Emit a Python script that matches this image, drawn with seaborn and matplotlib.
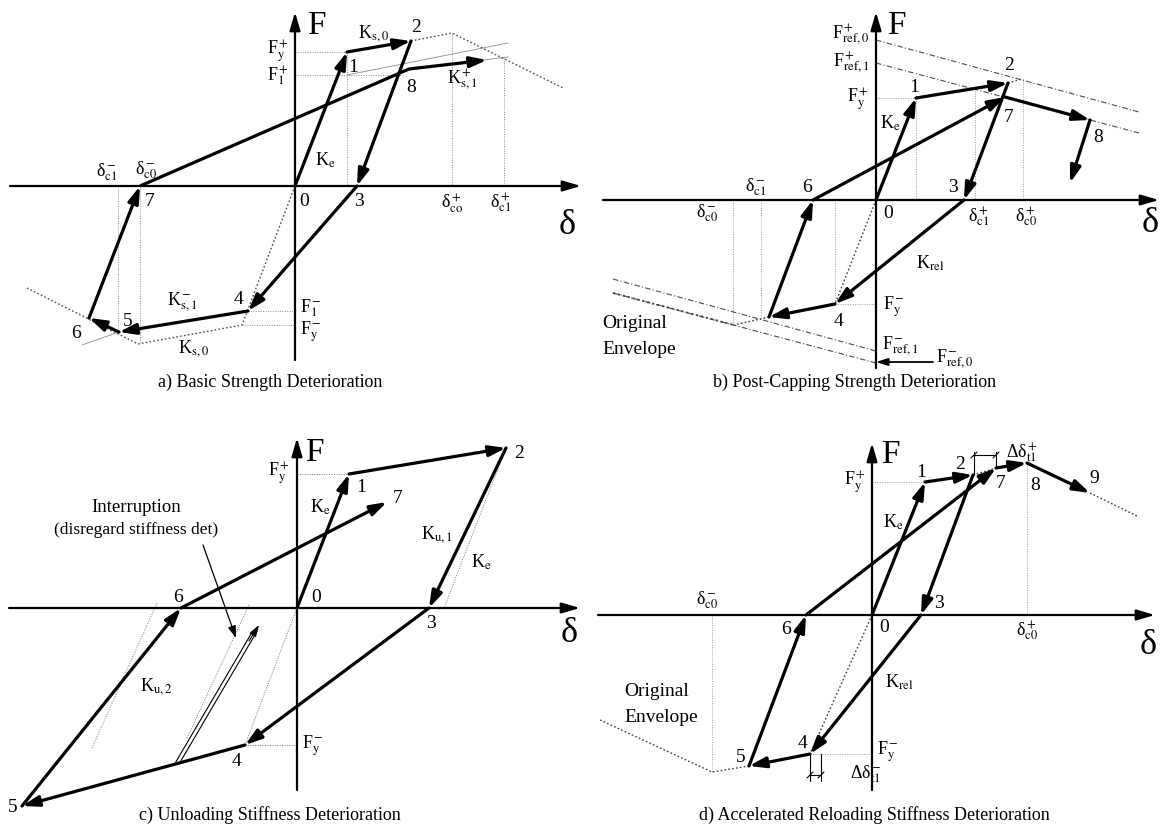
import matplotlib
matplotlib.use("Agg")
import matplotlib.pyplot as plt
import seaborn as sns

sns.set_theme(style="white")
plt.rcParams['font.family'] = ['Liberation Serif', 'DejaVu Serif']
plt.rcParams['mathtext.fontset'] = 'stix'

# ------------------------------------------------------------------ data
# Each panel: hysteresis path (delta, F) in schematic units, origin at axis crossing.
# ---- panel a : basic strength deterioration
A_PATH_D = [0, 52, 116, 62, -47, -176, -206, -155, 114, 192]
A_PATH_F = [0, 134, 145, 0, -125, -146, -132, 0, 117, 126]
A_HEADS = [1, 1, 1, 1, 1, 1, 1, 0, 1]
A_ENV_POS_D = [116, 157, 268]
A_ENV_POS_F = [145, 153, 98]
A_ENV_NEG_D = [0, -53, -157, -268]
A_ENV_NEG_F = [0, -139, -158, -102]
A_RED_D = [[52, 213], [114, 213], [-176, -213]]
A_RED_F = [[111, 143], [117, 129], [-146, -159]]
A_GUIDE_D = [[52, 52], [157, 157], [209, 209], [-177, -177], [-155, -155],
             [0, 52], [0, 108], [-53, 0], [-47, 0]]
A_GUIDE_F = [[134, 0], [153, 0], [128, 0], [0, -148], [0, -158],
             [134, 134], [111, 111], [-139, -139], [-125, -125]]
A_CAPTION = "a) Basic Strength Deterioration"

# ---- panel b : post-capping strength deterioration
B_PATH_D = [0, 40, 132, 88, -41, -107, -63, 129, 214, 194]
B_PATH_F = [0, 102, 117, 0, -104, -117, 0, 103, 80, 17]
B_REF_D = [[0, 263], [0, 263], [-263, 0], [-263, 0]]
B_REF_F = [[160, 88], [137, 67], [-79, -151], [-93, -163]]
B_ENV_D = [[132, 146], [-107, -142], [0, -41], [-263, -142]]
B_ENV_F = [[117, 121], [-117, -125], [0, -104], [-93, -125]]
B_GUIDE_D = [[40, 40], [99, 99], [147, 147], [-115, -115], [-143, -143], [-41, -41],
             [0, 40], [-41, 0]]
B_GUIDE_F = [[102, 0], [112, 0], [121, 0], [0, -117], [0, -125], [0, -104],
             [102, 102], [-104, -104]]
B_CAPTION = "b) Post-Capping Strength Deterioration"

# ---- panel c : unloading stiffness deterioration
C_PATH_D = [0, 52, 209, 132, -52, -275, -116, 90]
C_PATH_F = [0, 134, 160, 0, -137, -198, 0, 106]
C_INTERRUPT_D = [-119, -38]
C_INTERRUPT_F = [-154, -17]
C_GUIDE_D = [[0, 52], [-52, 0], [209, 147], [0, -52], [-140, -205], [-48, -110]]
C_GUIDE_F = [[134, 134], [-137, -137], [160, 0], [0, -137], [5, -140], [3, -130]]
C_CAPTION = "c) Unloading Stiffness Deterioration"

# ---- panel d : accelerated reloading stiffness deterioration
D_PATH_D = [0, 53, 101, 49, -62, -123, -66, 124, 155, 218]
D_PATH_F = [0, 133, 140, 0, -139, -151, 0, 147, 152, 122]
D_ENV_D = [[101, 124], [218, 267], [0, -62], [-272, -160, -123]]
D_ENV_F = [[140, 147], [122, 98], [0, -139], [-105, -157, -151]]
D_GUIDE_D = [[155, 155], [0, 53], [-62, 0], [-160, -160]]
D_GUIDE_F = [[152, 0], [133, 133], [-139, -139], [0, -157]]
D_DIM_POS_D = [102, 124]
D_DIM_NEG_D = [-62, -51]
D_CAPTION = "d) Accelerated Reloading Stiffness Deterioration"

# ------------------------------------------------------------------ layout
W, H = 1162, 836
fig = plt.figure(figsize=(W / 100, H / 100), dpi=100)
fig.patch.set_facecolor("white")


def make_ax(x0, y0, x1, y1, ox, oy):
    ax = fig.add_axes([x0 / W, 1 - y1 / H, (x1 - x0) / W, (y1 - y0) / H])
    ax.set_xlim(x0 - ox, x1 - ox)
    ax.set_ylim(oy - y1, oy - y0)
    ax.set_axis_off()
    return ax


HEAD = "-|>,head_length=0.5,head_width=0.16"


def arrow(ax, p, q, lw=2.3, ms=20, style=HEAD, color="black"):
    ax.annotate("", xy=q, xytext=p,
                arrowprops=dict(arrowstyle=style, lw=lw, color=color,
                                shrinkA=0, shrinkB=0, mutation_scale=ms))


def line(ax, xs, ys, color="0.35", lw=0.9, ls=(0, (1.2, 1.6))):
    sns.lineplot(x=list(xs), y=list(ys), sort=False, estimator=None, ax=ax,
                 color=color, lw=lw, linestyle=ls, legend=False)


def path(ax, ds, fs, heads=None):
    for i in range(len(ds) - 1):
        h = True if heads is None else heads[i]
        if h:
            arrow(ax, (ds[i], fs[i]), (ds[i + 1], fs[i + 1]))
        else:
            ax.plot([ds[i], ds[i + 1]], [fs[i], fs[i + 1]], color="black",
                    lw=2.3, solid_capstyle="butt")


def axes_arrows(ax, xl, xr, yb, yt):
    arrow(ax, (xl, 0), (xr, 0), lw=1.6, ms=20,
          style="-|>,head_length=0.55,head_width=0.16")
    arrow(ax, (0, yb), (0, yt), lw=1.6, ms=20,
          style="-|>,head_length=0.55,head_width=0.16")


def lab(ax, d, f, s, size=13, ha="center", va="center"):
    ax.text(d, f, s, fontsize=size, ha=ha, va=va, color="black")


def sub(base, lo, hi=""):
    if hi:
        return base + r"$_{\mathrm{" + lo + r"}}^{\,\mathrm{" + hi + r"}}$"
    return base + r"$_{\mathrm{" + lo + r"}}$"


# ================================================================ panel a
ax = make_ax(0, 0, 581, 400, 295, 186)
for xs, ys in zip(A_GUIDE_D, A_GUIDE_F):
    line(ax, xs, ys, color="0.55", lw=0.7, ls=(0, (1, 1.5)))
for xs, ys in zip(A_RED_D, A_RED_F):
    line(ax, xs, ys, color="0.6", lw=0.7, ls="-")
line(ax, A_ENV_POS_D, A_ENV_POS_F, color="0.3", lw=1.0)
line(ax, A_ENV_NEG_D, A_ENV_NEG_F, color="0.3", lw=1.0)
axes_arrows(ax, -285, 286, -174, 174)
path(ax, A_PATH_D, A_PATH_F, A_HEADS)
lab(ax, 21, 160, "F", size=24)
lab(ax, 272, -40, "δ", size=26)
lab(ax, -6, 134, sub("F", "y", "+"), ha="right")
lab(ax, -6, 110, sub("F", "1", "+"), ha="right")
lab(ax, 79, 152, sub("K", "s,0"))
lab(ax, 121, 158, "2", size=14)
lab(ax, 58, 119, "1", size=14)
lab(ax, 116, 99, "8", size=14)
lab(ax, 167, 106, sub("K", "s,1", "+"))
lab(ax, 30, 26, sub("K", "e"))
lab(ax, 9, -16, "0", size=14)
lab(ax, 64, -16, "3", size=14)
lab(ax, -145, -16, "7", size=14)
lab(ax, -188, 14, sub("δ", "c1", "-"))
lab(ax, -149, 16, sub("δ", "c0", "-"))
lab(ax, 157, -18, sub("δ", "co", "+"))
lab(ax, 206, -17, sub("δ", "c1", "+"))
lab(ax, 5, -122, sub("F", "1", "-"), ha="left")
lab(ax, 5, -146, sub("F", "y", "-"), ha="left")
lab(ax, -113, -116, sub("K", "s,1", "-"))
lab(ax, -57, -113, "4", size=14)
lab(ax, -167, -136, "5", size=14)
lab(ax, -219, -147, "6", size=14)
lab(ax, -101, -163, sub("K", "s,0"))
lab(ax, -25, -196, A_CAPTION, size=13)

# ================================================================ panel b
ax = make_ax(581, 0, 1162, 400, 876, 200)
for xs, ys in zip(B_GUIDE_D, B_GUIDE_F):
    line(ax, xs, ys, color="0.6", lw=0.7, ls=(0, (1, 1.5)))
for xs, ys in zip(B_REF_D, B_REF_F):
    line(ax, xs, ys, color="0.3", lw=0.8, ls=(0, (5, 2, 1, 2)))
for i, (xs, ys) in enumerate(zip(B_ENV_D, B_ENV_F)):
    line(ax, xs, ys, color="0.25", lw=1.3 if i == 3 else 1.0)
axes_arrows(ax, -273, 283, -168, 188)
path(ax, B_PATH_D, B_PATH_F)
arrow(ax, (57, -162), (0, -162), lw=1.3, ms=14)
lab(ax, 20, 174, "F", size=24)
lab(ax, 274, -24, "δ", size=26)
lab(ax, -7, 165, sub("F", "ref,0", "+"), ha="right")
lab(ax, -7, 137, sub("F", "ref,1", "+"), ha="right")
lab(ax, -7, 100, sub("F", "y", "+"), ha="right")
lab(ax, 133, 135, "2", size=14)
lab(ax, 38, 113, "1", size=14)
lab(ax, 14, 77, sub("K", "e"))
lab(ax, 133, 83, "7", size=14)
lab(ax, 222, 63, "8", size=14)
lab(ax, 77, 12, "3", size=14)
lab(ax, 12, -14, "0", size=14)
lab(ax, 103, -17, sub("δ", "c1", "+"))
lab(ax, 150, -17, sub("δ", "c0", "+"))
lab(ax, -169, -13, sub("δ", "c0", "-"))
lab(ax, -120, 13, sub("δ", "c1", "-"))
lab(ax, -69, 12, "6", size=14)
lab(ax, 54, -63, sub("K", "rel"))
lab(ax, 7, -106, sub("F", "y", "-"), ha="left")
lab(ax, -37, -122, "4", size=14)
lab(ax, -274, -124, "Original", ha="left", size=14)
lab(ax, -274, -149, "Envelope", ha="left", size=14)
lab(ax, 6, -146, sub("F", "ref,1", "-"), ha="left")
lab(ax, 60, -159, sub("F", "ref,0", "-"), ha="left")
lab(ax, -21, -182, B_CAPTION, size=13)

# ================================================================ panel c
ax = make_ax(0, 400, 581, 836, 297, 608)
for xs, ys in zip(C_GUIDE_D, C_GUIDE_F):
    line(ax, xs, ys, color="0.45", lw=0.7, ls=(0, (1, 1.5)))
axes_arrows(ax, -288, 283, -182, 170)
path(ax, C_PATH_D, C_PATH_F)
# interruption: double thin arrow
for off in (-2.2, 2.2):
    ax.plot([C_INTERRUPT_D[0] + off, C_INTERRUPT_D[1] + off - 4],
            [C_INTERRUPT_F[0], C_INTERRUPT_F[1] - 6], color="black", lw=0.8)
arrow(ax, (C_INTERRUPT_D[1] - 10, C_INTERRUPT_F[1] - 16),
      (C_INTERRUPT_D[1], C_INTERRUPT_F[1]), lw=0.8, ms=14)
arrow(ax, (-94, 63), (-61, -30), lw=0.9, ms=12,
      style="-|>,head_length=0.6,head_width=0.2")
lab(ax, 17, 155, "F", size=24)
lab(ax, 272, -25, "δ", size=26)
lab(ax, -7, 134, sub("F", "y", "+"), ha="right")
lab(ax, 64, 121, "1", size=14)
lab(ax, 101, 110, "7", size=14)
lab(ax, 222, 155, "2", size=14)
lab(ax, 23, 101, sub("K", "e"))
lab(ax, 140, 73, sub("K", "u,1"))
lab(ax, 184, 46, sub("K", "e"))
lab(ax, 19, 11, "0", size=14)
lab(ax, -119, 11, "6", size=14)
lab(ax, 134, -15, "3", size=14)
lab(ax, -161, 101, "Interruption", size=13.5)
lab(ax, -161, 78, "(disregard stiffness det)", size=12.5)
lab(ax, -141, -79, sub("K", "u,2"))
lab(ax, 5, -137, sub("F", "y", "-"), ha="left")
lab(ax, -61, -154, "4", size=14)
lab(ax, -284, -200, "5", size=14)
lab(ax, -27, -207, C_CAPTION, size=13)

# ================================================================ panel d
ax = make_ax(581, 400, 1162, 836, 872, 615)
for xs, ys in zip(D_GUIDE_D, D_GUIDE_F):
    line(ax, xs, ys, color="0.6", lw=0.7, ls=(0, (1, 1.5)))
for xs, ys in zip(D_ENV_D, D_ENV_F):
    line(ax, xs, ys, color="0.25", lw=1.0)
axes_arrows(ax, -274, 283, -175, 172)
path(ax, D_PATH_D, D_PATH_F)
# dimension marks
for dv, fb in zip(D_DIM_POS_D, [140, 147]):
    ax.plot([dv, dv], [fb, 163], color="black", lw=0.8)
    ax.plot([dv - 3, dv + 3], [157, 163], color="black", lw=0.8)
ax.plot(D_DIM_POS_D, [160, 160], color="black", lw=0.8)
for dv in D_DIM_NEG_D:
    ax.plot([dv, dv], [-139, -166], color="black", lw=0.8)
    ax.plot([dv - 3, dv + 3], [-163, -157], color="black", lw=0.8)
ax.plot(D_DIM_NEG_D, [-160, -160], color="black", lw=0.8)
lab(ax, 18, 160, "F", size=24)
lab(ax, 276, -31, "δ", size=26)
lab(ax, -6, 132, sub("F", "y", "+"), ha="right")
lab(ax, 49, 143, "1", size=14)
lab(ax, 88, 151, "2", size=14)
lab(ax, 150, 162, sub("Δδ", "t1", "+"))
lab(ax, 129, 132, "7", size=14)
lab(ax, 163, 130, "8", size=14)
lab(ax, 222, 137, "9", size=14)
lab(ax, 21, 93, sub("K", "e"))
lab(ax, 67, 12, "3", size=14)
lab(ax, 12, -12, "0", size=14)
lab(ax, -86, -15, "6", size=14)
lab(ax, 155, -16, sub("δ", "c0", "+"))
lab(ax, -165, 15, sub("δ", "c0", "-"))
lab(ax, 27, -67, sub("K", "rel"))
lab(ax, -215, -77, "Original", size=14)
lab(ax, -211, -103, "Envelope", size=14)
lab(ax, 5, -137, sub("F", "y", "-"), ha="left")
lab(ax, -70, -128, "4", size=14)
lab(ax, -131, -142, "5", size=14)
lab(ax, -22, -159, sub("Δδ", "t1", "-"), ha="left")
lab(ax, 2, -200, D_CAPTION, size=13)

fig.savefig("out.png", dpi=100, facecolor="white")
